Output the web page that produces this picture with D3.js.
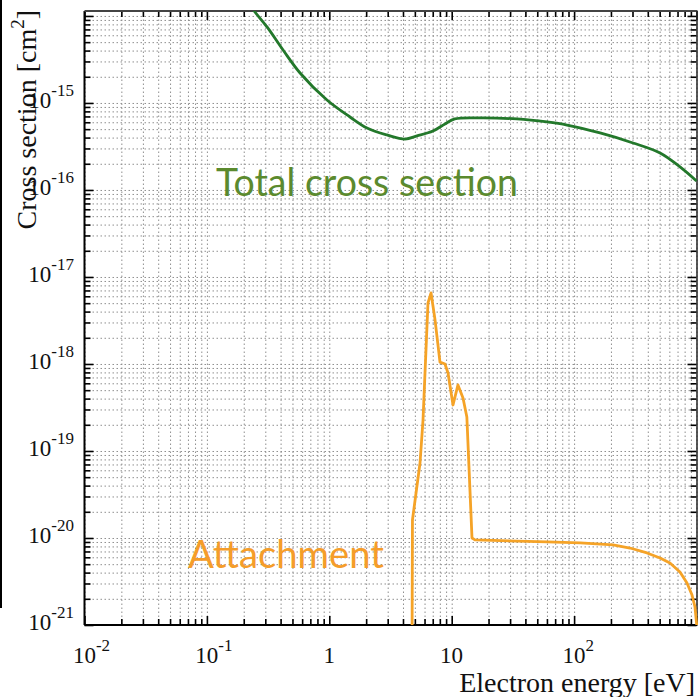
<!DOCTYPE html>
<html>
<head>
<meta charset="utf-8">
<script src="https://cdn.jsdelivr.net/npm/d3@7"></script>
<style>
  body { margin: 0; background: #fff; }
  .grid line { stroke: #8f8f8f; stroke-width: 1; stroke-dasharray: 1.5 2.5; }
  .grid path, .ticks path { display: none; }
  .ticks line { stroke: #000; stroke-width: 1.6; }
  .lbl { font-family: 'Liberation Serif', 'Times New Roman', serif; fill: #111; }
</style>
</head>
<body>
<div id="root"></div>
<script>
const width = 698
const height = 697

// total cross section, energy in eV and sigma in cm^2
const totalEnergy = [0.225, 0.247, 0.31, 0.419, 0.577, 0.957, 1.476, 2.03, 2.96, 4.15, 5.21, 7.03, 8.81, 10.6, 17.0, 34.1, 60.1, 87.5, 163, 303, 504, 733, 1000]
const totalSigma = [1.34e-14, 1.11e-14, 7.48e-15, 4.06e-15, 2.21e-15, 1.08e-15, 6.9e-16, 5.16e-16, 4.29e-16, 3.85e-16, 4.18e-16, 4.76e-16, 5.74e-16, 6.55e-16, 6.73e-16, 6.55e-16, 6.05e-16, 5.58e-16, 4.52e-16, 3.47e-16, 2.66e-16, 1.84e-16, 1.27e-16]

// attachment cross section
const attachEnergy = [4.74, 4.78, 5.51, 5.83, 6.40, 6.78, 7.31, 8.02, 8.81, 9.33, 10.25, 11.25, 12.37, 13.3, 14.65, 15.5, 60.1, 112, 208, 286, 394, 504, 607, 733, 836, 919, 972, 1040]
const attachSigma = [5e-22, 1.61e-20, 7.28e-20, 2.27e-19, 5.02e-18, 6.55e-18, 3.21e-18, 1.05e-18, 1.0e-18, 7.89e-19, 3.38e-19, 5.74e-19, 4.06e-19, 2.46e-19, 1.0e-20, 9.5e-21, 9.0e-21, 8.77e-21, 8.32e-21, 7.67e-21, 6.73e-21, 5.89e-21, 5.16e-21, 4.06e-21, 3.04e-21, 2.21e-21, 1.61e-21, 6e-22]

const xTickExp = [-2, -1, 0, 1, 2]
const xTickLabels = [['10', '-2'], ['10', '-1'], ['1', ''], ['10', ''], ['10', '2']]
const yTickExp = [-21, -20, -19, -18, -17, -16, -15]
const yTickLabels = [['10', '-21'], ['10', '-20'], ['10', '-19'], ['10', '-18'], ['10', '-17'], ['10', '-16'], ['10', '-15']]

const x0 = 84.5, x1 = 696.5, y0 = 625, y1 = 11

const x = d3.scaleLog().domain([0.01, 1000]).range([x0, x1])
const y = d3.scaleLog().domain([1e-21, 1.14e-14]).range([y0, y1])

// every decade subdivision (1..9 x 10^n)
function subTicks(lo, hi) {
  const out = []
  for (let n = lo; n < hi; n++) {
    for (let k = 1; k <= 9; k++) out.push(+(k * Math.pow(10, n)).toPrecision(3))
  }
  out.push(Math.pow(10, hi))
  return out
}
const xAll = subTicks(-2, 3)
const yAll = subTicks(-21, -14).filter(v => v <= 1.14e-14)
const isMajor = v => Math.abs(Math.log10(v) - Math.round(Math.log10(v))) < 1e-6

const svg = d3.select('#root').append('svg')
  .attr('width', width)
  .attr('height', height)

svg.append('rect').attr('width', width).attr('height', height).attr('fill', '#fff')

// black bar on left edge
svg.append('rect').attr('x', 0).attr('y', 0).attr('width', 2).attr('height', 608).attr('fill', '#000')

// grid
svg.append('g').attr('class', 'grid')
  .attr('transform', `translate(0,${y0})`)
  .call(d3.axisBottom(x).tickValues(xAll).tickSize(-(y0 - y1)).tickFormat(''))
svg.append('g').attr('class', 'grid')
  .attr('transform', `translate(${x0},0)`)
  .call(d3.axisLeft(y).tickValues(yAll).tickSize(-(x1 - x0)).tickFormat(''))

// ticks on all four sides, pointing inward
function tickAxis(axis, tr) {
  return svg.append('g').attr('class', 'ticks').attr('transform', tr)
    .call(axis.tickSize(-6).tickFormat(''))
}
tickAxis(d3.axisBottom(x).tickValues(xAll), `translate(0,${y0})`)
  .selectAll('.tick line').filter(d => isMajor(d)).attr('y2', -9)
tickAxis(d3.axisTop(x).tickValues(xAll), `translate(0,${y1})`)
  .selectAll('.tick line').filter(d => isMajor(d)).attr('y2', 9)
tickAxis(d3.axisLeft(y).tickValues(yAll), `translate(${x0},0)`)
  .selectAll('.tick line').filter(d => isMajor(d)).attr('x2', 9)
tickAxis(d3.axisRight(y).tickValues(yAll), `translate(${x1},0)`)
  .selectAll('.tick line').filter(d => isMajor(d)).attr('x2', -9)

// frame
svg.append('line').attr('x1', x0).attr('x2', x0).attr('y1', y1).attr('y2', y0).attr('stroke', '#000').attr('stroke-width', 2)
svg.append('line').attr('x1', x0).attr('x2', x1 + 1).attr('y1', y0).attr('y2', y0).attr('stroke', '#000').attr('stroke-width', 2)
svg.append('line').attr('x1', x0).attr('x2', x1 + 1).attr('y1', y1).attr('y2', y1).attr('stroke', '#444').attr('stroke-width', 2)
svg.append('line').attr('x1', x1 + 0.5).attr('x2', x1 + 0.5).attr('y1', y1).attr('y2', y0).attr('stroke', '#222').attr('stroke-width', 1.5)

// tick labels
xTickExp.forEach((e, i) => {
  const [base, sup] = xTickLabels[i]
  const t = svg.append('text').attr('class', 'lbl')
    .attr('x', x(Math.pow(10, e)) - base.length * 5.8)
    .attr('y', 663)
    .style('font-size', '23px')
  t.append('tspan').text(base)
  if (sup) t.append('tspan').attr('dy', -12).style('font-size', '17px').text(sup)
})
yTickExp.forEach((e, i) => {
  const [base, sup] = yTickLabels[i]
  const t = svg.append('text').attr('class', 'lbl')
    .attr('x', 74)
    .attr('y', y(Math.pow(10, e)) + 5)
    .attr('text-anchor', 'end')
    .style('font-size', '23px')
  t.append('tspan').text(base)
  t.append('tspan').attr('dy', -12).style('font-size', '17px').text(sup)
})

// axis titles
const yt = svg.append('text').attr('class', 'lbl')
  .attr('transform', 'translate(36,10) rotate(-90)')
  .attr('text-anchor', 'end')
  .style('font-size', '28px')
yt.append('tspan').text('Cross section [cm')
yt.append('tspan').attr('dy', -12).style('font-size', '19px').text('2')
yt.append('tspan').attr('dy', 12).text(']')

svg.append('text').attr('class', 'lbl')
  .attr('x', 695).attr('y', 692)
  .attr('text-anchor', 'end')
  .style('font-size', '28px')
  .text('Electron energy [eV]')

// curves
svg.append('clipPath').attr('id', 'plot')
  .append('rect').attr('x', x0).attr('y', y1).attr('width', x1 - x0 + 2).attr('height', y0 - y1)

const totalLine = d3.line()
  .x((d, i) => x(totalEnergy[i]))
  .y((d, i) => y(totalSigma[i]))
  .curve(d3.curveCatmullRom.alpha(0.5))
const attachLine = d3.line()
  .x((d, i) => x(attachEnergy[i]))
  .y((d, i) => y(attachSigma[i]))

svg.append('path')
  .datum(totalEnergy)
  .attr('clip-path', 'url(#plot)')
  .attr('d', totalLine)
  .attr('fill', 'none')
  .attr('stroke', '#23782b')
  .attr('stroke-width', 2.8)

svg.append('path')
  .datum(attachEnergy)
  .attr('clip-path', 'url(#plot)')
  .attr('d', attachLine)
  .attr('fill', 'none')
  .attr('stroke', '#f5a327')
  .attr('stroke-width', 2.8)
  .attr('stroke-linejoin', 'round')

// annotations
svg.append('text')
  .attr('x', 216).attr('y', 196)
  .attr('textLength', 302).attr('lengthAdjust', 'spacingAndGlyphs')
  .style('font-family', 'Lato, "Open Sans", sans-serif')
  .style('font-size', '38px')
  .attr('fill', '#5b8a2e')
  .text('Total cross section')

svg.append('text')
  .attr('x', 188).attr('y', 568)
  .attr('textLength', 196).attr('lengthAdjust', 'spacingAndGlyphs')
  .style('font-family', 'Lato, "Open Sans", sans-serif')
  .style('font-size', '38px')
  .attr('fill', '#f59d2a')
  .text('Attachment')
</script>
</body>
</html>
